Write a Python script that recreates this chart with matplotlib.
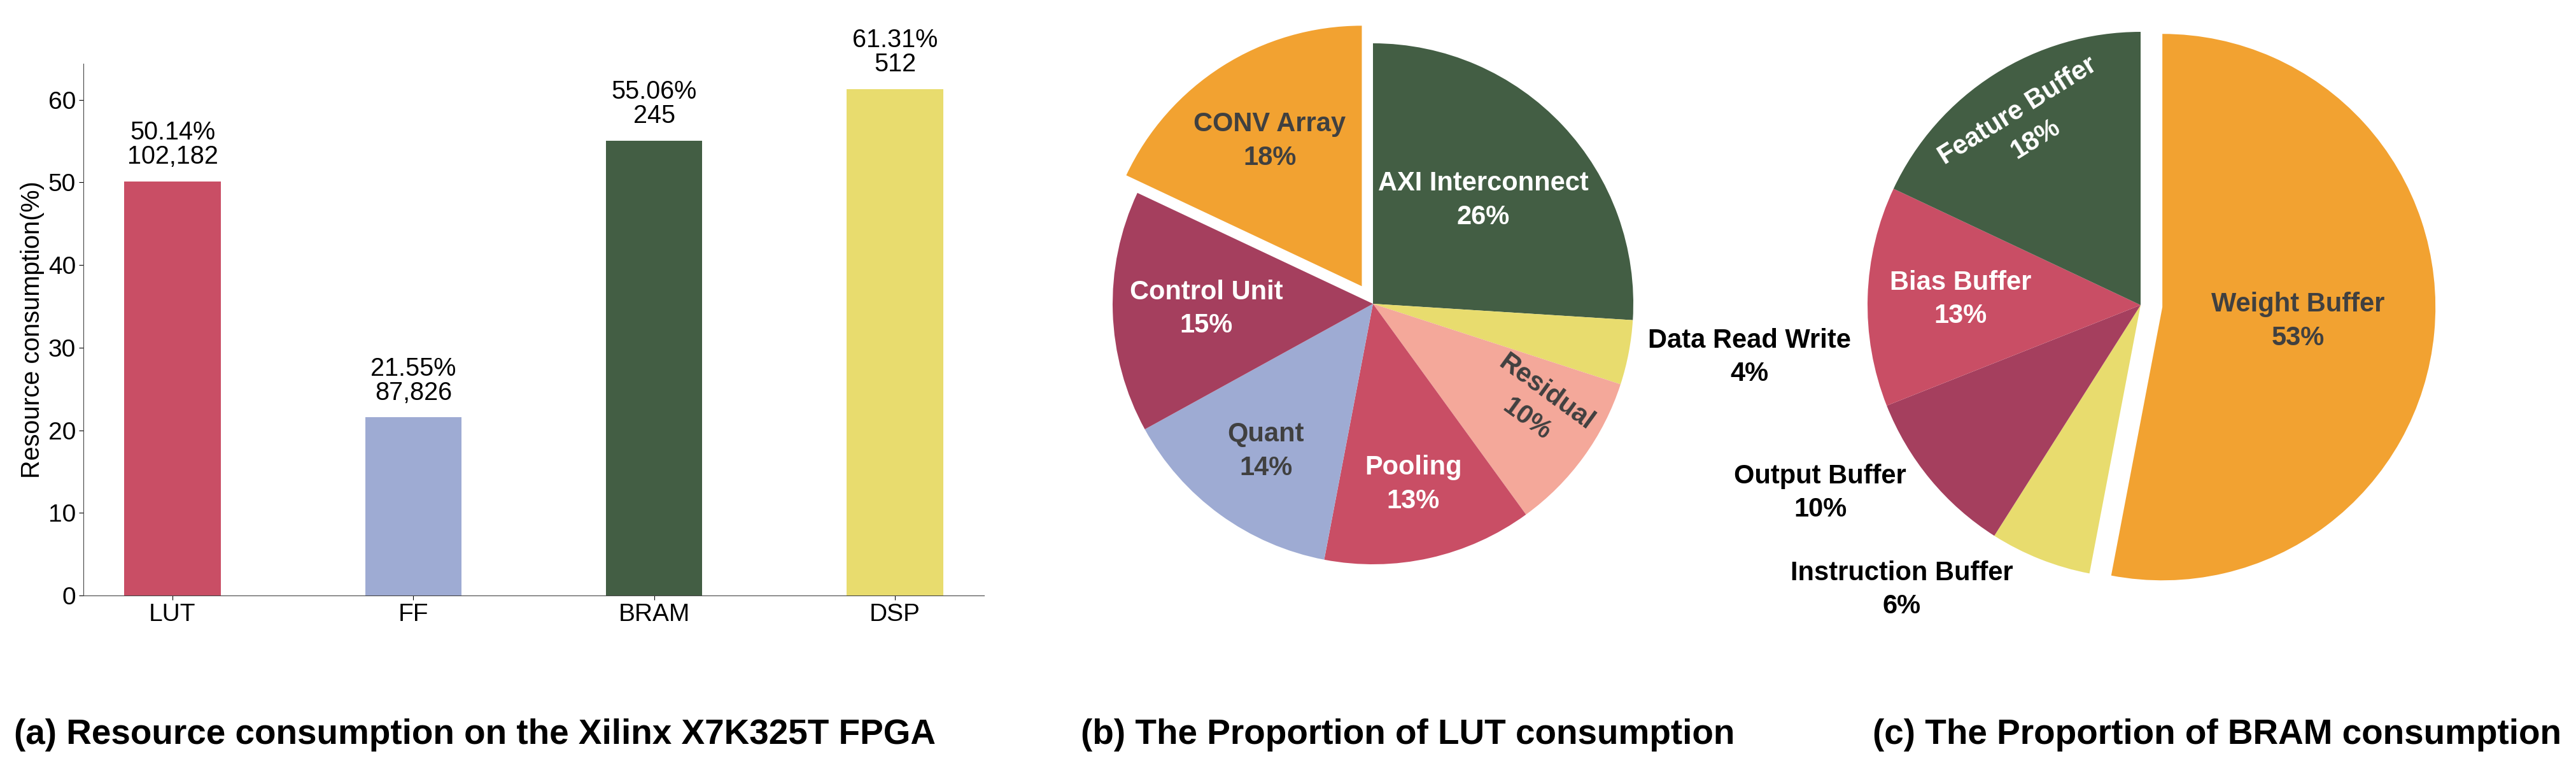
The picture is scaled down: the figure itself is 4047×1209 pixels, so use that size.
import matplotlib
matplotlib.use("Agg")
import matplotlib.pyplot as plt
import numpy as np

plt.rcParams['font.family'] = ['Liberation Sans', 'DejaVu Sans']

# (a) resource consumption
resources = ['LUT', 'FF', 'BRAM', 'DSP']
usage_pct = [50.14, 21.55, 55.06, 61.31]
usage_count = ['102,182', '87,826', '245', '512']
bar_colors = ['#C94E65', '#9EABD3', '#435E44', '#E8DC6E']

# (b) LUT breakdown
lut_parts = ['AXI Interconnect', 'Data Read Write', 'Residual', 'Pooling',
             'Quant', 'Control Unit', 'CONV Array']
lut_share = [26, 4, 10, 13, 14, 15, 18]
lut_colors = ['#435E44', '#E8DC6E', '#F4A89A', '#C94E65', '#9EABD3', '#A53F5E', '#F2A231']

# (c) BRAM breakdown
bram_parts = ['Weight Buffer', 'Instruction Buffer', 'Output Buffer', 'Bias Buffer', 'Feature Buffer']
bram_share = [53, 6, 10, 13, 18]
bram_colors = ['#F2A231', '#E8DC6E', '#A53F5E', '#C94E65', '#435E44']

W, H = 4047, 1209
fig = plt.figure(figsize=(W / 100, H / 100), dpi=100)


def px_axes(x0, y0, x1, y1):
    return fig.add_axes([x0 / W, 1 - y1 / H, (x1 - x0) / W, (y1 - y0) / H])


# bar chart
ax = px_axes(131, 100, 1546, 935)
x = np.arange(len(resources))
bars = ax.bar(x, usage_pct, width=0.4, color=bar_colors)
for b, p, c in zip(bars, usage_pct, usage_count):
    ax.annotate(f'{p:.2f}%\n{c}', (b.get_x() + b.get_width() / 2, b.get_height()),
                xytext=(0, 14), textcoords='offset points', ha='center', va='bottom',
                fontsize=28.5, linespacing=1.0)
ax.set_xticks(x)
ax.set_xticklabels(resources)
ax.set_ylabel('Resource consumption(%)', fontsize=28.5)
ax.tick_params(labelsize=28, length=5)
ax.spines['top'].set_visible(False)
ax.spines['right'].set_visible(False)
ax.spines['left'].set_color('#444444')
ax.spines['bottom'].set_color('#444444')


def draw_pie(cx, cy, r, shares, names, colors, txt_colors, lab_r, lab_dth, lab_rot, explode):
    hw, hh = 620, 470
    pax = px_axes(cx - hw, cy - hh, cx + hw, cy + hh)
    wedges, _ = pax.pie(shares, colors=colors, explode=explode, startangle=90,
                        counterclock=False, wedgeprops=dict(linewidth=0))
    pax.set_aspect('auto')
    pax.set_xlim(-hw / r, hw / r)
    pax.set_ylim(-hh / r, hh / r)
    for w, name, s, tc, lr, dth, rot in zip(wedges, names, shares, txt_colors, lab_r, lab_dth, lab_rot):
        mid = np.deg2rad((w.theta1 + w.theta2) / 2 + dth)
        ox, oy = w.center
        pax.text(ox + lr * np.cos(mid), oy + lr * np.sin(mid), f'{name}\n{s}%',
                 ha='center', va='center', color=tc, fontsize=30, fontweight='bold',
                 rotation=rot, rotation_mode='anchor', linespacing=1.4)
    return pax


draw_pie(2157, 477, 409, lut_share, lut_parts, lut_colors,
         ['white', 'black', '#404040', 'white', '#404040', 'white', '#404040'],
         [0.58, 1.46, 0.74, 0.71, 0.70, 0.64, 0.66],
         [0, 2.7, 4, 0, 0, 0, 0],
         [0, 0, -36, 0, 0, 0, 0],
         [0, 0, 0, 0, 0, 0, 0.08])

draw_pie(3363, 479, 429, bram_share, bram_parts, bram_colors,
         ['#404040', 'black', 'black', 'white', 'white'],
         [0.50, 1.36, 1.36, 0.66, 0.78],
         [-0.6, -18.4, -9.2, 0, 0],
         [0, 0, 0, 0, 32],
         [0.08, 0, 0, 0, 0])

captions = ['(a) Resource consumption on the Xilinx X7K325T FPGA',
            '(b) The Proportion of LUT consumption',
            '(c) The Proportion of BRAM consumption']
for cx, cap in zip([22, 1698, 2942], captions):
    fig.text(cx / W, 1 - 1168 / H, cap, ha='left', va='baseline', fontsize=39.5, fontweight='bold')

fig.savefig('out.png', dpi=100)
